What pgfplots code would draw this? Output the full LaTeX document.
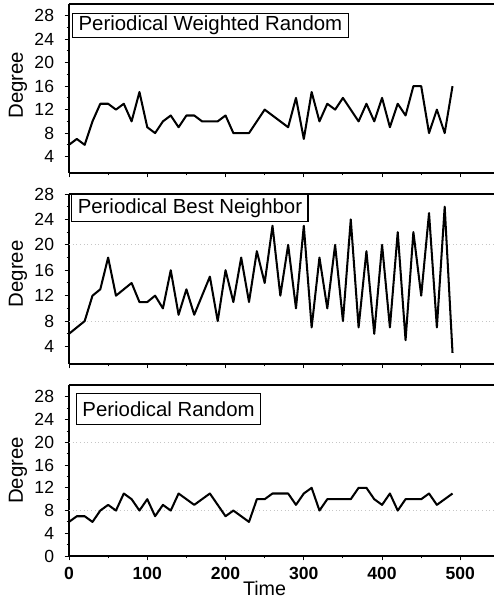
\documentclass[border=0pt]{standalone}
\usepackage{fontspec}
\setmainfont{Liberation Sans}
\usepackage{pgfplots}
\usepackage{pgfplotstable}
\pgfplotsset{compat=1.18}

\pgfplotstableread{
x y
0 6
10 7
20 6
30 10
40 13
50 13
60 12
70 13
80 10
90 15
100 9
110 8
120 10
130 11
140 9
150 11
160 11
170 10
180 10
190 10
200 11
210 8
220 8
230 8
240 10
250 12
260 11
270 10
280 9
290 14
300 7
310 15
320 10
330 13
340 12
350 14
360 12
370 10
380 13
390 10
400 14
410 9
420 13
430 11
440 16
450 16
460 8
470 12
480 8
490 16
}\wrtable

\pgfplotstableread{
x y
0 6
10 7
20 8
30 12
40 13
50 18
60 12
70 13
80 14
90 11
100 11
110 12
120 10
130 16
140 9
150 13
160 9
170 12
180 15
190 8
200 16
210 11
220 18
230 11
240 19
250 14
260 23
270 12
280 20
290 10
300 23
310 7
320 18
330 10
340 20
350 8
360 24
370 7
380 19
390 6
400 20
410 7
420 22
430 5
440 22
450 12
460 25
470 7
480 26
490 3
}\bntable

\pgfplotstableread{
x y
0 6
10 7
20 7
30 6
40 8
50 9
60 8
70 11
80 10
90 8
100 10
110 7
120 9
130 8
140 11
150 10
160 9
170 10
180 11
190 9
200 7
210 8
220 7
230 6
240 10
250 10
260 11
270 11
280 11
290 9
300 11
310 12
320 8
330 10
340 10
350 10
360 10
370 12
380 12
390 10
400 9
410 11
420 8
430 10
440 10
450 10
460 11
470 9
480 10
490 11
}\rtable

\tikzset{
  lbl/.style={draw, line width=0.9pt, anchor=north west, inner xsep=0.15cm, font=\fontsize{14.5}{14.5}\selectfont, fill=white},
}

\begin{document}
\begin{tikzpicture}
\pgfplotsset{
  panel/.style={
    scale only axis, width=10.625cm, xmin=0, xmax=543,
    anchor=south west,
    axis x line*=box, axis y line*=left,
    xtick={0,100,...,500}, minor x tick num=1,
    minor y tick num=1,
    tick align=outside, xtick pos=left, ytick pos=left,
    major tick length=0.11cm, minor tick length=0.06cm,
    every tick/.style={black, line width=0.7pt},
    axis line style={line width=0.8pt},
    /pgf/number format/assume math mode=true,
    yticklabel style={font=\fontsize{12.5}{13}\selectfont, xshift=-0.14cm},
    xticklabel style={font=\fontsize{12.5}{13}\selectfont\bfseries, yshift=-0.04cm},
    ylabel={Degree},
    ylabel style={font=\fontsize{14.5}{15}\selectfont, at={(axis description cs:-0.12,0.5)}, anchor=center},
    clip=false,
  },
  dataline/.style={black, line width=1.45pt, line join=round, mark=none},
  gridline/.style={gray!45, dotted, line width=0.6pt, forget plot},
}
% top
\begin{axis}[panel, at={(1.725cm,10.675cm)}, height=4.225cm, ymin=1.2, ymax=30, ytick={4,8,...,28}, xticklabels={},
  ylabel style={at={(axis description cs:-0.12,0.52)}}]
\addplot[dataline] table[x=x,y=y] {\wrtable};
\node[lbl, inner ysep=0.06cm] at (rel axis cs:0.007,0.947) {Periodical Weighted Random};
\end{axis}
% middle
\begin{axis}[panel, at={(1.725cm,5.9cm)}, height=4.25cm, ymin=1.25, ymax=28, ytick={4,8,...,28}, xticklabels={},
  ylabel style={at={(axis description cs:-0.12,0.53)}}]
\addplot[gridline] coordinates {(0,8) (543,8)};
\addplot[gridline] coordinates {(0,20) (543,20)};
\addplot[dataline] table[x=x,y=y] {\bntable};
\node[lbl, inner ysep=0.1cm] at (rel axis cs:0.005,1.0) {Periodical Best Neighbor};
\end{axis}
% bottom
\begin{axis}[panel, at={(1.725cm,1.1cm)}, height=4.275cm, ymin=0, ymax=30.1, ytick={0,4,...,28},
  xlabel={Time}, xlabel style={font=\fontsize{14}{14}\selectfont, at={(axis description cs:0.46,0)}, anchor=north, yshift=-0.5cm}]
\addplot[gridline] coordinates {(0,8) (543,8)};
\addplot[gridline] coordinates {(0,20) (543,20)};
\addplot[dataline] table[x=x,y=y] {\rtable};
\node[lbl, inner ysep=0.2cm] at (rel axis cs:0.016,0.953) {Periodical Random};
\end{axis}
\pgfresetboundingbox
\useasboundingbox (0,0) rectangle (12.35,15);
\end{tikzpicture}
\end{document}
